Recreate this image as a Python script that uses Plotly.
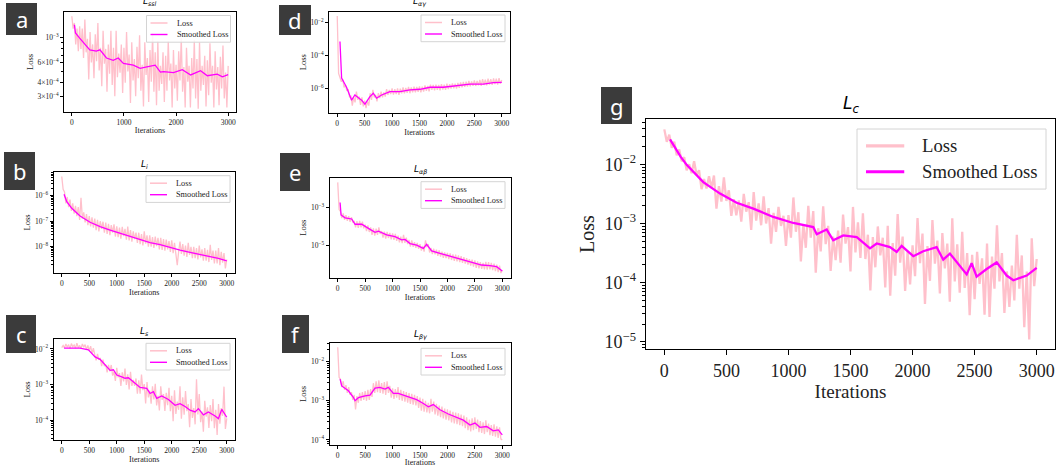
import plotly.graph_objects as go

W, H = 1060, 467

# ---------------- data ----------------
# Raw loss readings are stored as log10(loss), read off the log axes of the picture.
iters_25 = list(range(0, 3001, 25))
iters_20 = list(range(0, 3001, 20))
x_ticks_500 = [0, 500, 1000, 1500, 2000, 2500, 3000]
x_ticks_1000 = [0, 1000, 2000, 3000]

# (a) L_ssl
ssl_raw_log10 = [
    -2.81, -2.92, -2.87, -3.06, -2.92, -3.12, -2.90, -3.10,
    -2.92, -3.18, -2.84, -3.13, -3.01, -3.37, -2.95, -3.22,
    -3.06, -3.36, -2.97, -3.21, -2.87, -3.29, -3.09, -3.43,
    -2.94, -3.23, -3.10, -3.48, -3.06, -3.32, -2.94, -3.42,
    -3.09, -3.52, -2.94, -3.35, -3.14, -3.31, -3.06, -3.49,
    -3.09, -3.40, -2.95, -3.30, -3.15, -3.58, -3.04, -3.38,
    -3.19, -3.52, -3.08, -3.36, -2.98, -3.47, -3.24, -3.61,
    -3.04, -3.33, -3.18, -3.57, -3.11, -3.39, -2.96, -3.48,
    -3.13, -3.60, -3.03, -3.47, -3.25, -3.41, -3.13, -3.57,
    -3.16, -3.47, -3.03, -3.38, -3.23, -3.62, -3.11, -3.45,
    -3.24, -3.56, -3.12, -3.38, -3.00, -3.48, -3.26, -3.62,
    -3.09, -3.39, -3.25, -3.62, -3.18, -3.45, -3.02, -3.54,
    -3.19, -3.63, -3.04, -3.47, -3.25, -3.42, -3.16, -3.61,
    -3.20, -3.51, -3.05, -3.40, -3.25, -3.62, -3.12, -3.46,
    -3.26, -3.60, -3.17, -3.45, -3.07, -3.54, -3.31, -3.62,
    -3.25]
ssl_smooth_x = [50, 70, 150, 270, 345, 470, 540, 665, 795, 890, 990, 1180, 1310, 1440, 1600,
                1700, 1760, 1950, 2120, 2280, 2470, 2600, 2790, 2890, 3000]
ssl_smooth = [1.3e-3, 1.1e-3, 9.9e-4, 8.6e-4, 7.8e-4, 7.6e-4, 7.8e-4, 6.6e-4, 6.3e-4, 6.6e-4,
              5.9e-4, 5.7e-4, 5.35e-4, 5.5e-4, 5.7e-4, 4.95e-4, 5.0e-4, 4.9e-4, 5.2e-4, 4.67e-4,
              5.1e-4, 4.6e-4, 4.75e-4, 4.5e-4, 4.7e-4]
ssl_ytick_vals = [1e-3, 6e-4, 4e-4, 3e-4]
ssl_ytick_text = ["10<sup>−3</sup>", "6×10<sup>−4</sup>", "4×10<sup>−4</sup>", "3×10<sup>−4</sup>"]

# (b) L_i
li_raw_log10 = [
    -5.25, -5.75, -5.85, -6.30, -6.05, -6.45, -6.15, -6.60,
    -6.30, -6.70, -6.40, -6.80, -6.45, -6.95, -6.08, -6.90,
    -6.65, -7.05, -6.72, -7.15, -6.80, -7.20, -6.85, -7.25,
    -6.90, -7.35, -6.95, -7.40, -7.00, -7.30, -7.02, -7.45,
    -7.05, -7.50, -7.10, -7.55, -7.15, -7.45, -7.12, -7.60,
    -7.20, -7.62, -7.25, -7.68, -7.22, -7.58, -7.30, -7.72,
    -7.21, -7.75, -7.35, -7.80, -7.40, -7.70, -7.45, -7.85,
    -7.45, -7.90, -7.50, -7.95, -7.40, -7.88, -7.55, -8.00,
    -7.55, -8.00, -7.62, -8.05, -7.60, -7.98, -7.65, -8.10,
    -7.65, -8.12, -7.70, -8.15, -7.72, -8.10, -7.78, -8.20,
    -7.75, -8.25, -7.85, -8.30, -8.72, -8.20, -7.80, -8.28,
    -7.90, -8.35, -7.95, -8.40, -7.85, -8.32, -8.00, -8.45,
    -8.00, -8.45, -8.05, -8.50, -7.95, -8.42, -8.10, -8.55,
    -8.05, -8.55, -8.12, -8.60, -7.92, -8.52, -8.15, -8.65,
    -8.15, -8.65, -8.05, -8.72, -8.20, -8.62, -8.25, -8.85,
    -8.50]
li_smooth_x = [42, 91, 182, 333, 515, 697, 879, 1060, 1242, 1424, 1606, 1788, 1970, 2151,
               2333, 2515, 2697, 2848, 3000]
li_smooth = [1.13e-6, 5.8e-7, 3.2e-7, 1.6e-7, 9.1e-8, 6.1e-8, 4.5e-8, 3.4e-8, 2.5e-8, 1.95e-8,
             1.45e-8, 1.2e-8, 9.1e-9, 7.4e-9, 6.0e-9, 5.0e-9, 4.1e-9, 3.5e-9, 2.8e-9]
li_ytick_vals = [1e-6, 1e-7, 1e-8]
li_ytick_text = ["10<sup>−6</sup>", "10<sup>−7</sup>", "10<sup>−8</sup>"]

# (c) L_s
ls_raw_log10 = [
    -1.96, -1.90, -1.97, -1.86, -1.95, -1.88, -1.99, -1.85,
    -1.94, -1.89, -1.98, -1.84, -1.96, -1.90, -1.99, -1.86,
    -1.95, -1.88, -2.02, -1.90, -2.05, -1.92, -2.12, -1.98,
    -2.16, -2.32, -2.14, -2.31, -2.25, -2.48, -2.30, -2.48,
    -2.44, -2.66, -2.45, -2.63, -2.45, -2.75, -2.64, -2.90,
    -2.53, -2.80, -2.68, -3.04, -2.66, -2.91, -2.55, -3.01,
    -2.71, -3.14, -2.64, -3.04, -2.87, -3.04, -2.83, -3.26,
    -2.88, -3.26, -2.72, -3.16, -2.99, -3.53, -2.93, -3.36,
    -3.17, -3.54, -3.05, -3.42, -2.98, -3.59, -3.31, -3.73,
    -3.05, -3.43, -3.27, -3.74, -3.23, -3.58, -3.09, -3.75,
    -3.32, -4.03, -3.16, -3.83, -3.48, -3.71, -3.05, -3.96,
    -3.36, -3.85, -3.18, -3.75, -3.55, -4.20, -3.41, -3.94,
    -3.66, -4.12, -2.85, -3.84, -3.27, -4.06, -3.76, -4.33,
    -3.46, -3.90, -3.64, -4.22, -3.58, -4.03, -3.41, -4.23,
    -3.71, -4.42, -3.55, -4.10, -3.66, -3.88, -3.06, -4.25,
    -3.95]
ls_smooth_x = [42, 333, 485, 606, 697, 788, 879, 939, 1000, 1091, 1151, 1212, 1303, 1424,
               1545, 1606, 1666, 1727, 1818, 1939, 2060, 2151, 2242, 2333, 2424, 2485, 2576,
               2666, 2788, 2848, 2909, 3000]
ls_smooth = [1.05e-2, 1.05e-2, 9.4e-3, 6e-3, 5.1e-3, 3.5e-3, 2.5e-3, 2.6e-3, 1.85e-3, 1.65e-3,
             1.5e-3, 1.55e-3, 1.2e-3, 8.3e-4, 7.8e-4, 5.6e-4, 6.3e-4, 4.1e-4, 4.8e-4, 3.8e-4,
             2.6e-4, 2.9e-4, 2.4e-4, 1.9e-4, 1.7e-4, 2.1e-4, 1.4e-4, 1.7e-4, 1.3e-4, 1.1e-4,
             2e-4, 1.2e-4]
ls_ytick_vals = [1e-2, 1e-3, 1e-4]
ls_ytick_text = ["10<sup>−2</sup>", "10<sup>−3</sup>", "10<sup>−4</sup>"]

# (d) L_alpha-gamma
lag_raw_log10 = [
    -1.62, -5.10, -5.35, -5.60, -5.45, -5.95, -5.80, -6.15,
    -6.05, -6.55, -6.45, -7.05, -6.55, -6.85, -6.20, -6.70,
    -6.50, -7.00, -6.55, -7.10, -6.75, -7.20, -6.80, -7.05,
    -6.30, -6.70, -6.10, -6.55, -6.40, -6.80, -6.30, -6.60,
    -6.20, -6.55, -6.25, -6.50, -6.05, -6.40, -6.10, -6.35,
    -6.00, -6.38, -6.05, -6.35, -6.00, -6.40, -6.02, -6.30,
    -5.95, -6.30, -5.98, -6.28, -5.92, -6.30, -5.95, -6.25,
    -5.90, -6.25, -5.92, -6.22, -5.88, -6.25, -5.90, -6.20,
    -5.82, -6.15, -5.85, -6.18, -5.78, -6.10, -5.80, -6.12,
    -5.78, -6.10, -5.80, -6.12, -5.75, -6.08, -5.78, -6.10,
    -5.72, -6.05, -5.75, -6.02, -5.70, -6.00, -5.72, -6.02,
    -5.68, -5.98, -5.65, -5.95, -5.62, -5.92, -5.60, -5.90,
    -5.55, -5.88, -5.58, -5.85, -5.52, -5.86, -5.55, -5.82,
    -5.50, -5.85, -5.45, -5.80, -5.48, -5.82, -5.42, -5.78,
    -5.45, -5.80, -5.40, -5.75, -5.42, -5.78, -5.38, -5.72,
    -5.50]
lag_smooth_x = [50, 80, 170, 262, 322, 444, 505, 596, 657, 718, 809, 960, 1144, 1327, 1509,
                1692, 1935, 2178, 2422, 2665, 2848, 3000]
lag_smooth = [6.8e-4, 4.1e-6, 1.15e-6, 1.9e-7, 3.9e-7, 1.9e-7, 1.1e-7, 3.1e-7, 5e-7, 2.5e-7,
              3.9e-7, 6.3e-7, 6.3e-7, 7.9e-7, 8.7e-7, 1.15e-6, 1.15e-6, 1.38e-6, 1.8e-6, 1.8e-6,
              2.2e-6, 2.3e-6]
lag_ytick_vals = [1e-2, 1e-4, 1e-6]
lag_ytick_text = ["10<sup>−2</sup>", "10<sup>−4</sup>", "10<sup>−6</sup>"]

# (e) L_alpha-beta
lab_raw_log10 = [
    -1.64, -3.10, -3.20, -3.55, -3.30, -3.65, -3.40, -3.70,
    -3.45, -3.75, -3.50, -3.80, -3.70, -4.05, -3.72, -4.08,
    -3.70, -4.05, -3.75, -4.10, -3.90, -4.25, -3.95, -4.30,
    -4.05, -4.45, -4.10, -4.50, -4.12, -4.45, -4.05, -4.40,
    -4.25, -4.60, -4.28, -4.65, -4.30, -4.62, -4.35, -4.70,
    -4.38, -4.72, -4.40, -4.78, -4.50, -4.85, -4.55, -4.90,
    -4.45, -4.88, -4.60, -4.95, -4.72, -5.08, -4.75, -5.10,
    -4.85, -5.15, -4.88, -5.20, -4.95, -5.30, -5.05, -5.35,
    -4.75, -5.12, -4.95, -5.40, -5.15, -5.48, -5.20, -5.50,
    -5.25, -5.58, -5.28, -5.62, -5.35, -5.68, -5.40, -5.70,
    -5.42, -5.75, -5.45, -5.80, -5.50, -5.85, -5.52, -5.88,
    -5.55, -5.92, -5.60, -5.95, -5.65, -6.00, -5.70, -6.05,
    -5.75, -6.10, -5.78, -6.15, -5.82, -6.22, -5.88, -6.25,
    -5.92, -6.28, -5.95, -6.30, -5.90, -6.32, -5.92, -6.30,
    -5.95, -6.35, -6.00, -6.40, -6.05, -6.45, -6.10, -6.50,
    -6.35]
lab_smooth_x = [43, 61, 134, 255, 316, 437, 559, 680, 741, 893, 1045, 1166, 1227, 1318, 1439,
                1561, 1621, 1712, 1864, 2016, 2168, 2320, 2472, 2624, 2775, 2897, 3000]
lab_smooth = [1.9e-3, 4.1e-4, 2.9e-4, 2.5e-4, 1.3e-4, 1.3e-4, 7.8e-5, 4.8e-5, 5.6e-5, 3.5e-5,
              2.8e-5, 1.9e-5, 2.0e-5, 1.2e-5, 1.0e-5, 6.6e-6, 1.1e-5, 4.8e-6, 3.6e-6, 2.7e-6,
              2.1e-6, 1.6e-6, 1.2e-6, 8.5e-7, 7.8e-7, 6.9e-7, 4.1e-7]
lab_ytick_vals = [1e-3, 1e-5]
lab_ytick_text = ["10<sup>−3</sup>", "10<sup>−5</sup>"]

# (f) L_beta-gamma
lbg_raw_log10 = [
    -1.63, -2.40, -2.45, -2.65, -2.50, -2.72, -2.60, -2.80,
    -2.65, -2.85, -2.78, -2.98, -2.85, -3.22, -2.88, -3.05,
    -2.80, -3.00, -2.78, -2.98, -2.75, -3.00, -2.72, -2.98,
    -2.70, -2.90, -2.55, -2.80, -2.50, -2.78, -2.48, -2.80,
    -2.55, -2.82, -2.52, -2.85, -2.50, -2.80, -2.62, -2.92,
    -2.68, -2.95, -2.70, -2.92, -2.65, -2.98, -2.72, -3.00,
    -2.75, -3.02, -2.78, -3.05, -2.80, -3.08, -2.82, -3.10,
    -2.85, -3.12, -2.88, -3.18, -2.92, -3.25, -2.95, -3.28,
    -3.00, -3.30, -3.05, -3.32, -2.95, -3.28, -3.02, -3.35,
    -3.08, -3.38, -3.12, -3.42, -3.15, -3.45, -3.20, -3.48,
    -3.22, -3.50, -3.25, -3.55, -3.28, -3.58, -3.30, -3.60,
    -3.32, -3.62, -3.35, -3.65, -3.38, -3.70, -3.42, -3.75,
    -3.48, -3.78, -3.45, -3.75, -3.42, -3.72, -3.48, -3.80,
    -3.52, -3.82, -3.55, -3.85, -3.50, -3.80, -3.58, -3.88,
    -3.62, -3.90, -3.60, -3.92, -3.65, -3.95, -3.68, -3.98,
    -4.00]
lbg_smooth_x = [43, 73, 194, 285, 316, 377, 498, 589, 680, 771, 862, 923, 1014, 1105, 1196,
                1318, 1439, 1561, 1652, 1743, 1864, 2016, 2168, 2290, 2411, 2502, 2593, 2715,
                2836, 2927, 3000]
lbg_smooth = [3.6e-3, 2.4e-3, 1.8e-3, 1.23e-3, 1.0e-3, 1.2e-3, 1.33e-3, 1.4e-3, 2.1e-3, 2.2e-3,
              2.0e-3, 2.2e-3, 1.55e-3, 1.55e-3, 1.4e-3, 1.23e-3, 1.07e-3, 8.5e-4, 7.0e-4, 8.0e-4,
              5.9e-4, 4.6e-4, 3.8e-4, 3.2e-4, 2.4e-4, 2.7e-4, 2.1e-4, 2.2e-4, 1.7e-4, 1.8e-4,
              1.34e-4]
lbg_ytick_vals = [1e-2, 1e-3, 1e-4]
lbg_ytick_text = ["10<sup>−2</sup>", "10<sup>−3</sup>", "10<sup>−4</sup>"]

# (g) L_c  (raw read every 20 iterations)
lc_raw_log10 = [
    -1.41, -1.62, -1.50, -1.72, -1.62, -1.85, -1.75, -1.95, -1.88, -2.10,
    -2.00, -2.15, -1.95, -2.18, -2.10, -2.42, -2.25, -2.41, -2.20, -2.40,
    -2.19, -2.75, -2.37, -2.63, -2.22, -2.62, -2.44, -2.87, -2.59, -2.86,
    -2.61, -2.97, -2.50, -2.80, -2.64, -3.11, -2.47, -2.95, -2.66, -3.03,
    -2.54, -3.00, -2.74, -3.34, -2.82, -3.14, -2.72, -3.04, -2.87, -3.38,
    -2.86, -3.24, -2.56, -3.14, -2.81, -3.64, -3.01, -3.41, -2.70, -3.24,
    -2.79, -3.83, -3.08, -3.47, -2.71, -3.35, -3.04, -3.80, -3.22, -3.62,
    -3.12, -3.66, -2.85, -3.34, -3.06, -3.81, -2.72, -3.49, -2.98, -3.58,
    -2.83, -3.60, -3.19, -4.13, -3.23, -3.74, -3.05, -3.54, -3.24, -4.08,
    -3.04, -4.22, -3.33, -3.88, -2.84, -3.66, -3.22, -4.14, -3.47, -4.03,
    -3.37, -3.89, -2.91, -3.67, -3.17, -4.36, -3.38, -3.97, -2.94, -3.68,
    -3.29, -4.18, -3.16, -3.76, -3.34, -4.32, -2.91, -3.98, -3.35, -4.17,
    -3.14, -4.09, -3.50, -4.55, -3.53, -4.28, -3.48, -4.02, -3.59, -4.54,
    -3.34, -4.58, -3.56, -4.10, -3.03, -3.98, -3.50, -4.51, -3.81, -4.41,
    -3.71, -4.30, -3.19, -4.10, -3.54, -4.75, -3.81, -4.96, -3.25, -4.06,
    -3.60]
lc_smooth_x = [46, 86, 131, 180, 314, 449, 583, 717, 878, 1039, 1200, 1228, 1308, 1361, 1442,
               1550, 1657, 1711, 1818, 1872, 1912, 2006, 2086, 2194, 2247, 2301, 2382, 2436,
               2476, 2516, 2597, 2678, 2758, 2812, 2920, 3000]
lc_smooth = [2.63e-2, 1.9e-2, 1.35e-2, 9.8e-3, 5.0e-3, 3.2e-3, 2.24e-3, 1.78e-3, 1.29e-3, 1.02e-3,
             8.7e-4, 6.6e-4, 7.9e-4, 5.2e-4, 6.3e-4, 5.9e-4, 3.8e-4, 4.6e-4, 4.0e-4, 3.3e-4,
             4.2e-4, 2.8e-4, 3.4e-4, 4.0e-4, 2.45e-4, 3.1e-4, 1.9e-4, 1.38e-4, 2.14e-4, 1.26e-4,
             1.7e-4, 2.2e-4, 1.32e-4, 1.1e-4, 1.32e-4, 1.78e-4]
lc_ytick_vals = [1e-2, 1e-3, 1e-4, 1e-5]
lc_ytick_text = ["10<sup>−2</sup>", "10<sup>−3</sup>", "10<sup>−4</sup>", "10<sup>−5</sup>"]

legend_names = ["Loss", "Smoothed Loss"]

# ---------------- layout / style ----------------
# box: plot area in pixels (x0, x1, y0, y1); tag: letter box in pixels
panels = [
    dict(letter="a", title="<i>L</i><sub><i>ssl</i></sub>", rx=iters_25, ry=ssl_raw_log10,
         sx=ssl_smooth_x, sy=ssl_smooth, ytv=ssl_ytick_vals, ytt=ssl_ytick_text, xtv=x_ticks_1000,
         box=(64, 236, 11.7, 112), yr=(-3.659, -2.77), leg=(230.5, 15.5), tag=(6, 37, 3, 35),
         big=False, minor=True, tshift=3),
    dict(letter="b", title="<i>L</i><sub><i>i</i></sub>", rx=iters_25, ry=li_raw_log10,
         sx=li_smooth_x, sy=li_smooth, ytv=li_ytick_vals, ytt=li_ytick_text, xtv=x_ticks_500,
         box=(53.5, 235, 171.7, 273.3), yr=(-9.04, -5.06), leg=(230, 175.7), tag=(4, 35, 152, 190),
         big=False, minor=True, tshift=0),
    dict(letter="c", title="<i>L</i><sub><i>s</i></sub>", rx=iters_25, ry=ls_raw_log10,
         sx=ls_smooth_x, sy=ls_smooth, ytv=ls_ytick_vals, ytt=ls_ytick_text, xtv=x_ticks_500,
         box=(53.5, 235, 339, 440), yr=(-4.56, -1.72), leg=(230, 343.3), tag=(6, 36, 315, 353),
         big=False, minor=True, tshift=0),
    dict(letter="d", title="<i>L</i><sub><i>αγ</i></sub>", rx=iters_25, ry=lag_raw_log10,
         sx=lag_smooth_x, sy=lag_smooth, ytv=lag_ytick_vals, ytt=lag_ytick_text, xtv=x_ticks_500,
         box=(329, 510, 11.7, 112.7), yr=(-7.48, -1.36), leg=(505, 15), tag=(279, 311, 5, 35),
         big=False, minor=False, tshift=2),
    dict(letter="e", title="<i>L</i><sub><i>αβ</i></sub>", rx=iters_25, ry=lab_raw_log10,
         sx=lab_smooth_x, sy=lab_smooth, ytv=lab_ytick_vals, ytt=lab_ytick_text, xtv=x_ticks_500,
         box=(329.5, 510.5, 177.7, 277.7), yr=(-6.75, -1.39), leg=(505, 181.7), tag=(280, 310, 153, 191),
         big=False, minor=False, tshift=0),
    dict(letter="f", title="<i>L</i><sub><i>βγ</i></sub>", rx=iters_25, ry=lbg_raw_log10,
         sx=lbg_smooth_x, sy=lbg_smooth, ytv=lbg_ytick_vals, ytt=lbg_ytick_text, xtv=x_ticks_500,
         box=(329.5, 510.5, 342.7, 445), yr=(-4.13, -1.515), leg=(505, 348.3), tag=(282, 309, 315, 353),
         big=False, minor=True, tshift=0),
    dict(letter="g", title="<i>L</i><sub><i>c</i></sub>", rx=iters_20, ry=lc_raw_log10,
         sx=lc_smooth_x, sy=lc_smooth, ytv=lc_ytick_vals, ytt=lc_ytick_text, xtv=x_ticks_500,
         box=(645.7, 1055.3, 119.3, 349), yr=(-5.12, -1.24), leg=(1046, 129), tag=(601, 632, 87, 124),
         big=True, minor=True, tshift=1),
]

SERIF = "Liberation Serif"
MATH = "DejaVu Sans"
RAW_COLOR = "#FFC0CB"
SMOOTH_COLOR = "#FF00FF"
minor_vals = [m * 10.0 ** e for e in range(-10, 0) for m in range(2, 10)]

fig = go.Figure()
layout = {}
shapes = []
annotations = []


def px_x(v):
    return v / W


def px_y(v):
    return 1 - v / H


for i, p in enumerate(panels, start=1):
    sfx = "" if i == 1 else str(i)
    xa, ya = "x" + sfx, "y" + sfx
    big = p["big"]
    x0, x1, y0, y1 = p["box"]
    assert len(p["rx"]) == len(p["ry"]) and len(p["sx"]) == len(p["sy"])

    fig.add_trace(go.Scatter(
        x=p["rx"], y=[10 ** v for v in p["ry"]], mode="lines", name=legend_names[0],
        line=dict(color=RAW_COLOR, width=2.3 if big else 1.3),
        xaxis=xa, yaxis=ya, showlegend=False, hoverinfo="skip"))
    fig.add_trace(go.Scatter(
        x=p["sx"], y=p["sy"], mode="lines", name=legend_names[1],
        line=dict(color=SMOOTH_COLOR, width=2.3 if big else 1.3),
        xaxis=xa, yaxis=ya, showlegend=False, hoverinfo="skip"))

    tick_font = dict(family=SERIF, size=18 if big else 7.5, color="#222")
    common = dict(showline=True, linecolor="black", linewidth=1.2 if big else 0.9, mirror=True,
                  ticks="outside", ticklen=5 if big else 3, tickwidth=1.1 if big else 0.8,
                  tickcolor="black", showgrid=False, zeroline=False, automargin=False,
                  tickfont=tick_font)

    layout["xaxis" + sfx] = dict(
        common, domain=[px_x(x0), px_x(x1)], anchor=ya, range=[-150, 3150],
        tickmode="array", tickvals=p["xtv"], ticktext=[str(v) for v in p["xtv"]],
        title=dict(text="Iterations", font=dict(family=SERIF, size=19 if big else 8.1, color="#222"),
                   standoff=3 if big else 1))
    ymin = dict(ticks="outside", ticklen=3 if big else 2, tickcolor="black",
                tickmode="array", tickvals=minor_vals) if p["minor"] else dict(ticks="")
    layout["yaxis" + sfx] = dict(
        common, domain=[px_y(y1), px_y(y0)], anchor=xa, type="log", range=list(p["yr"]),
        tickmode="array", tickvals=p["ytv"], ticktext=p["ytt"], minor=ymin,
        title=dict(text="Loss", font=dict(family=SERIF, size=20 if big else 8.5, color="#222"),
                   standoff=4 if big else 2))

    # legend box (drawn by hand so it can be as compact as the original)
    s = 2.25 if big else 1.0
    lr, lt = p["leg"]
    lw_, lh_ = 84 * s, 26.7 * s
    ll = lr - lw_
    shapes.append(dict(type="rect", xref="paper", yref="paper",
                       x0=px_x(ll), x1=px_x(lr), y0=px_y(lt + lh_), y1=px_y(lt),
                       fillcolor="rgba(255,255,255,0.85)", line=dict(color="#d4d4d4", width=1),
                       layer="above"))
    for row, (name, col, w) in enumerate([(legend_names[0], RAW_COLOR, 1.5 * s),
                                           (legend_names[1], SMOOTH_COLOR, 1.4 * s)]):
        yy = lt + (7.5 if row == 0 else 19.0) * s
        shapes.append(dict(type="line", xref="paper", yref="paper",
                           x0=px_x(ll + 4 * s), x1=px_x(ll + 21 * s), y0=px_y(yy), y1=px_y(yy),
                           line=dict(color=col, width=w), layer="above"))
        annotations.append(dict(
            text=name, xref="paper", yref="paper", x=px_x(ll + 28 * s), y=px_y(yy),
            xanchor="left", yanchor="middle", showarrow=False,
            font=dict(family=SERIF, size=8.3 * s, color="#222")))

    # panel title
    annotations.append(dict(
        text=p["title"], xref="paper", yref="paper", x=px_x((x0 + x1) / 2), y=px_y(y0),
        xanchor="center", yanchor="bottom", yshift=p["tshift"], showarrow=False,
        font=dict(family=MATH, size=17 if big else 9, color="black")))

    # letter tag
    tx0, tx1, ty0, ty1 = p["tag"]
    shapes.append(dict(type="rect", xref="paper", yref="paper",
                       x0=px_x(tx0), x1=px_x(tx1), y0=px_y(ty1), y1=px_y(ty0),
                       fillcolor="#3b3b3b", line=dict(width=0), layer="above"))
    annotations.append(dict(
        text=p["letter"], xref="paper", yref="paper", x=px_x((tx0 + tx1) / 2), y=px_y((ty0 + ty1) / 2),
        xanchor="center", yanchor="middle", showarrow=False,
        font=dict(family="Noto Sans", size=22, color="white")))

fig.update_layout(
    width=W, height=H, autosize=False,
    margin=dict(l=0, r=0, t=0, b=0),
    paper_bgcolor="white", plot_bgcolor="white",
    font=dict(family=SERIF, color="#222"),
    showlegend=False,
    shapes=shapes, annotations=annotations,
    **layout)

fig.write_html("out.html", config={"displayModeBar": False},
               post_script="document.body.style.margin='0px';document.body.style.padding='0px';")
